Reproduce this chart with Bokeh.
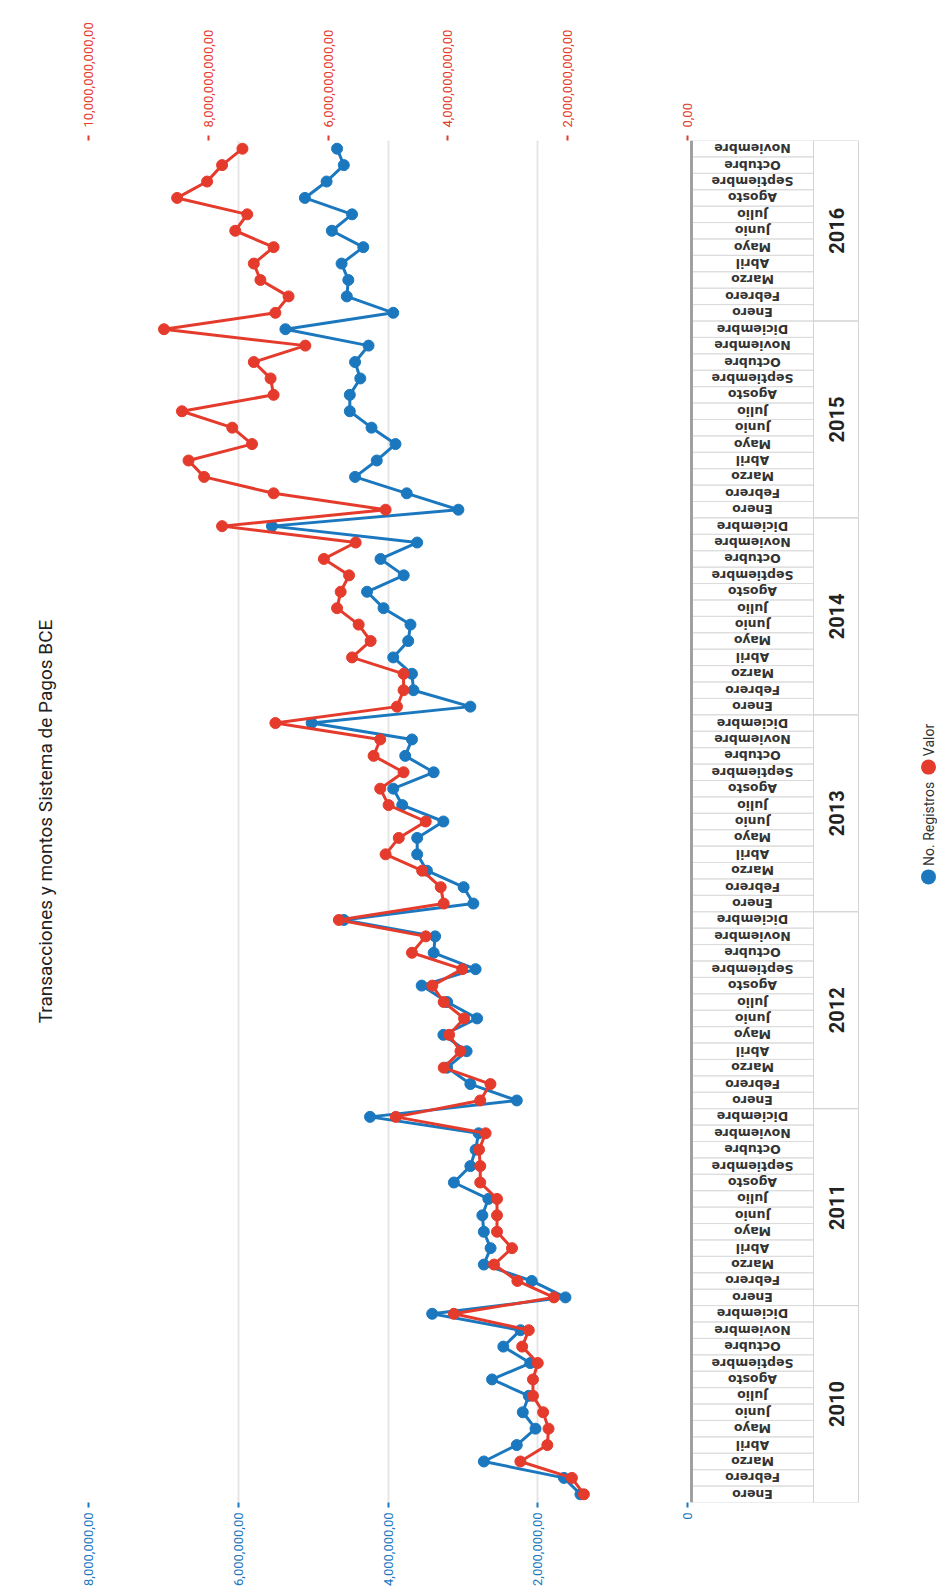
import math
from bokeh.plotting import figure
from bokeh.models import Range1d, LinearAxis, FixedTicker, ColumnDataSource
from bokeh.core.properties import value
from bokeh.embed import file_html
from bokeh.resources import INLINE

# ---------------- data ----------------
years = ["2010", "2011", "2012", "2013", "2014", "2015", "2016"]
months = ["Enero", "Febrero", "Marzo", "Abril", "Mayo", "Junio", "Julio",
          "Agosto", "Septiembre", "Octubre", "Noviembre", "Diciembre"]
months_per_year = [12, 12, 12, 12, 12, 12, 11]

# No. Registros (millions)
registros_mill = [
    1.43, 1.65, 2.72, 2.28, 2.03, 2.20, 2.12, 2.61, 2.10, 2.46, 2.23, 3.41,
    1.63, 2.08, 2.72, 2.63, 2.72, 2.74, 2.66, 3.12, 2.90, 2.83, 2.79, 4.24,
    2.28, 2.90, 3.21, 2.95, 3.26, 2.81, 3.21, 3.55, 2.83, 3.39, 3.37, 4.59,
    2.86, 2.99, 3.48, 3.61, 3.61, 3.26, 3.81, 3.93, 3.39, 3.77, 3.68, 5.02,
    2.90, 3.66, 3.68, 3.93, 3.73, 3.70, 4.06, 4.28, 3.79, 4.10, 3.61, 5.55,
    3.06, 3.75, 4.44, 4.15, 3.90, 4.22, 4.51, 4.51, 4.37, 4.44, 4.26, 5.37,
    3.93, 4.55, 4.53, 4.62, 4.33, 4.75, 4.48, 5.11, 4.82, 4.59, 4.68,
]
# Valor (billions)
valor_bill = [
    1.73, 1.93, 2.79, 2.34, 2.32, 2.41, 2.58, 2.58, 2.50, 2.76, 2.65, 3.90,
    2.23, 2.84, 3.23, 2.93, 3.18, 3.18, 3.18, 3.46, 3.46, 3.48, 3.37, 4.87,
    3.46, 3.29, 4.07, 3.79, 3.98, 3.73, 4.07, 4.26, 3.76, 4.60, 4.37, 5.82,
    4.07, 4.12, 4.43, 5.04, 4.82, 4.37, 4.99, 5.13, 4.74, 5.24, 5.13, 6.88,
    4.85, 4.74, 4.74, 5.60, 5.29, 5.49, 5.85, 5.79, 5.65, 6.07, 5.54, 7.77,
    5.04, 6.91, 8.07, 8.33, 7.27, 7.60, 8.44, 6.91, 6.96, 7.24, 6.38, 8.74,
    6.88, 6.66, 7.13, 7.24, 6.91, 7.55, 7.35, 8.52, 8.02, 7.77, 7.43,
]

blue_ticks = [0, 2e6, 4e6, 6e6, 8e6]
blue_tick_labels = ["0", "2,000,000,00", "4,000,000,00", "6,000,000,00", "8,000,000,00"]
red_ticks = [0, 2e9, 4e9, 6e9, 8e9, 10e9]
red_tick_labels = ["0,00", "2,000,000,000,00", "4,000,000,000,00", "6,000,000,000,00",
                   "8,000,000,000,00", "10,000,000,000,00"]

title_text = "Transacciones y montos Sistema de Pagos BCE"
series_names = ["No. Registros", "Valor"]

# ---------------- derived ----------------
month_labels = []
for n in months_per_year:
    month_labels.extend(months[:n])
n_total = len(month_labels)
idx = list(range(n_total))
year_centers = []
start = 0
for n in months_per_year:
    year_centers.append(start + (n - 1) / 2)
    start += n
registros = [v * 1e6 for v in registros_mill]
valor = [v * 1e9 for v in valor_bill]

BLUE = "#1b78be"
RED = "#e43b2c"
FONT = "Roboto"

# frame geometry (px) -> data ranges
px_left, px_zero, px_right = 88, 687, 937
ppm = (px_zero - px_left) / 8e6
blue_end = -(px_right - px_zero) / ppm
ratio = 10e9 / 8e6

p = figure(width=937, height=1588, output_backend="svg", toolbar_location=None,
           x_range=Range1d(8e6, blue_end),
           y_range=Range1d(-0.5, n_total - 0.5),
           y_axis_location=None, x_axis_location="below",
           title=title_text, title_location="left",
           min_border_left=88, min_border_right=0, min_border_top=140, min_border_bottom=83)
p.outline_line_color = None
p.background_fill_color = "white"
p.title.text_font = FONT
p.title.text_font_size = "19px"
p.title.text_font_style = "normal"
p.title.text_color = "#222222"
p.title.align = "center"
p.title.standoff = 63

p.extra_x_ranges = {"red": Range1d(8e6 * ratio, blue_end * ratio),
                    "px": Range1d(px_left, px_right)}
p.extra_y_ranges = {"py": Range1d(1505, 140)}

# bottom (blue) axis
ax = p.xaxis[0]
ax.ticker = FixedTicker(ticks=blue_ticks)
ax.major_label_overrides = {t: l for t, l in zip(blue_ticks, blue_tick_labels)}
ax.major_label_orientation = math.pi / 2
ax.axis_line_color = None
ax.major_tick_line_color = BLUE
ax.major_tick_line_width = 2
ax.major_tick_out = 5
ax.major_tick_in = 0
ax.minor_tick_line_color = None
ax.major_label_text_color = BLUE
ax.major_label_text_font = FONT
ax.major_label_text_font_size = "13px"
ax.major_label_standoff = 5

# top (red) axis
rax = LinearAxis(x_range_name="red", ticker=FixedTicker(ticks=red_ticks))
rax.major_label_overrides = {t: l for t, l in zip(red_ticks, red_tick_labels)}
rax.major_label_orientation = math.pi / 2
rax.axis_line_color = None
rax.major_tick_line_color = RED
rax.major_tick_line_width = 2
rax.major_tick_out = 5
rax.major_tick_in = 0
rax.minor_tick_line_color = None
rax.major_label_text_color = RED
rax.major_label_text_font = FONT
rax.major_label_text_font_size = "13px"
rax.major_label_standoff = 8
p.add_layout(rax, "above")

p.xgrid.ticker = FixedTicker(ticks=blue_ticks[1:])
p.xgrid.grid_line_color = "#e6e6e6"
p.xgrid.grid_line_width = 2
p.ygrid.visible = False

# ---------- category table (original x axis) ----------
p.rect(x=752, y=idx, width=122, height=1, x_range_name="px",
       fill_color=None, line_color="#dcdcdc", line_width=1)
p.rect(x=835.5, y=year_centers, width=45, height=months_per_year, x_range_name="px",
       fill_color=None, line_color="#d4d4d4", line_width=1)
p.segment(x0=[691], y0=[140], x1=[691], y1=[1505], x_range_name="px", y_range_name="py",
          line_color="#a0a0a0", line_width=3)
p.text(x=752, y=idx, text=month_labels, angle=math.pi, x_range_name="px",
       text_align="center", text_baseline="middle", text_font=value("DejaVu Sans"),
       text_font_size="12.5px", text_font_style="bold", text_color="#333333")
p.text(x=836, y=year_centers, text=years, angle=math.pi / 2, x_range_name="px",
       text_align="center", text_baseline="middle", text_font=value(FONT),
       text_font_size="20px", text_font_style="bold", text_color="#222222")

# ---------- series ----------
src = ColumnDataSource(dict(y=idx, reg=registros, val=valor))
p.line(x="reg", y="y", source=src, line_color=BLUE, line_width=3)
p.scatter(x="reg", y="y", source=src, size=11, fill_color=BLUE, line_color=BLUE)
p.line(x="val", y="y", source=src, line_color=RED, line_width=3, x_range_name="red")
p.scatter(x="val", y="y", source=src, size=11, fill_color=RED, line_color=RED,
          x_range_name="red")

# ---------- legend (rotated) ----------
p.scatter(x=[928, 928], y=[878, 768], size=15, fill_color=[BLUE, RED], line_color=None,
          x_range_name="px", y_range_name="py")
p.text(x=[928, 928], y=[867, 757], text=series_names, angle=math.pi / 2,
       x_range_name="px", y_range_name="py", text_align="left", text_baseline="middle",
       text_font=value(FONT), text_font_size="14px", text_color="#333333")

open("out.html", "w").write(file_html(p, INLINE))
